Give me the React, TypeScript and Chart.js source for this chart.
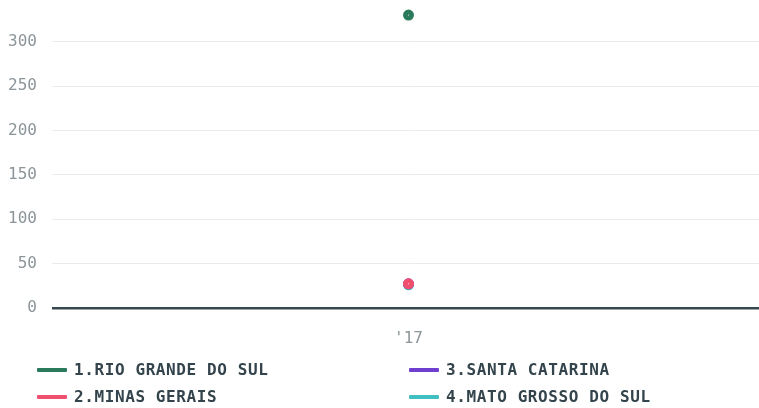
import React, { useEffect, useRef } from "react";
import { Chart, registerables } from "chart.js";

Chart.register(...registerables);

const categories = ["'17"];
const seriesNames = ["1.RIO GRANDE DO SUL", "2.MINAS GERAIS", "3.SANTA CATARINA", "4.MATO GROSSO DO SUL"];
const rioGrandeDoSul = [330];
const minasGerais = [27];
const santaCatarina = [27];
const matoGrossoDoSul = [26];
const seriesColors = ["#2b7a5c", "#f0506e", "#6f3fd0", "#3fbfc2"];
const yTicks = [0, 50, 100, 150, 200, 250, 300];

const seriesValues = [rioGrandeDoSul, minasGerais, santaCatarina, matoGrossoDoSul];

export default function App() {
  const ref = useRef<HTMLCanvasElement | null>(null);

  useEffect(() => {
    document.body.style.margin = "0";
    const ctx = ref.current!;
    const chart = new Chart(ctx, {
      type: "line",
      data: {
        labels: categories,
        datasets: seriesNames.map((name, i) => ({
          label: name,
          data: seriesValues[i],
          borderColor: seriesColors[i],
          backgroundColor: "#ffffff",
          pointBackgroundColor: "#ffffff",
          pointBorderColor: seriesColors[i],
          pointRadius: 3,
          pointBorderWidth: 5,
          borderWidth: 3,
          clip: false as any,
        })),
      },
      options: {
        animation: false,
        responsive: false,
        maintainAspectRatio: false,
        layout: { autoPadding: false, padding: 0 },
        plugins: {
          legend: { display: false },
          tooltip: { enabled: false },
        },
        scales: {
          x: {
            offset: true,
            grid: { display: false, drawTicks: false },
            border: { display: false },
            ticks: {
              color: "#8c9599",
              font: { family: "DejaVu Sans Mono", size: 16 },
              padding: 21,
            },
          },
          y: {
            min: 0,
            max: 347,
            afterBuildTicks: (axis: any) => {
              axis.ticks = yTicks.map((v) => ({ value: v }));
            },
            afterFit: (axis: any) => {
              axis.width = 58;
              axis.paddingTop = 0;
            },
            border: { display: false },
            grid: {
              color: (c: any) => (c.tick && c.tick.value === 0 ? "#37474f" : "#e9ebec"),
              lineWidth: (c: any) => (c.tick && c.tick.value === 0 ? 2.5 : 1),
              tickLength: 6,
              drawTicks: true,
            },
            ticks: {
              color: "#8c9599",
              font: { family: "DejaVu Sans Mono", size: 16 },
              padding: 15,
            },
          },
        },
      },
    });
    return () => chart.destroy();
  }, []);

  const legendItems = seriesNames.map((name, i) => (
    <div key={name} style={{ display: "flex", alignItems: "center", height: 27 }}>
      <span
        style={{
          display: "inline-block",
          width: 30,
          height: 4,
          background: seriesColors[i],
          marginRight: 7,
          borderRadius: 1,
        }}
      />
      <span
        style={{
          fontFamily: "DejaVu Sans Mono",
          fontWeight: "bold",
          fontSize: 16,
          color: "#34444c",
          letterSpacing: 0.6,
        }}
      >
        {name}
      </span>
    </div>
  ));

  return (
    <div style={{ width: 759, height: 408, position: "relative", background: "#fff" }}>
      <canvas ref={ref} width={759} height={369} style={{ display: "block" }} />
      <div
        style={{
          position: "absolute",
          left: 37,
          top: 356,
          display: "grid",
          gridTemplateColumns: "372px 340px",
          gridTemplateRows: "27px 27px",
          gridAutoFlow: "column",
        }}
      >
        {legendItems}
      </div>
    </div>
  );
}
